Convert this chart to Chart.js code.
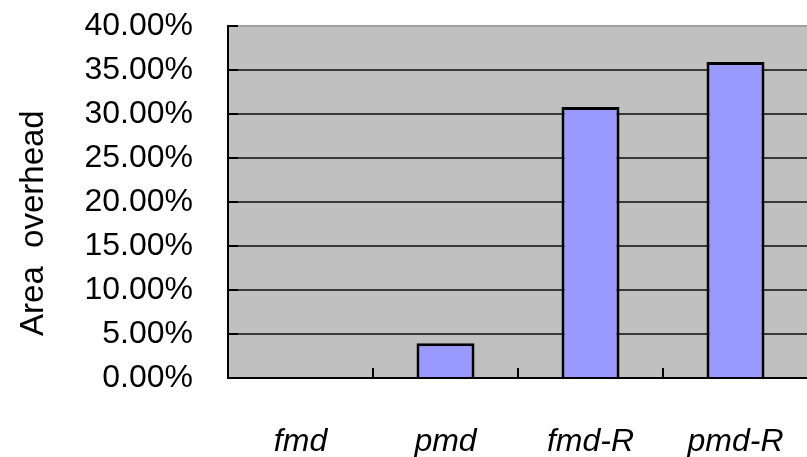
<!DOCTYPE html>
<html lang="en">
<head>
  <meta charset="UTF-8" />
  <title>Area overhead</title>
  <script src="https://cdn.jsdelivr.net/npm/chart.js"></script>
  <style>
    html, body { margin: 0; padding: 0; background: #fff; overflow: hidden; }
    .wrap { width: 840px; height: 457px; }
  </style>
</head>
<body>
  <div class="wrap"><canvas id="chart" width="840" height="457"></canvas></div>

  <script>
    const categories = ['fmd', 'pmd', 'fmd-R', 'pmd-R'];
    const overhead = [0, 3.95, 30.8, 35.9];   // percent
    const yMin = 0, yMax = 40, yStep = 5;
    const yTitle = 'Area  overhead';

    // gray plot background, inward tick marks and the axis title
    const plotBg = {
      id: 'plotBg',
      beforeDraw(chart) {
        const { ctx, chartArea: a } = chart;
        ctx.save();
        ctx.fillStyle = '#c0c0c0';
        ctx.fillRect(a.left, a.top, a.right - a.left, a.bottom - a.top);
        ctx.restore();
      },
      afterDatasetsDraw(chart) {
        const { ctx, chartArea: a, scales } = chart;
        ctx.save();
        ctx.strokeStyle = '#000';
        ctx.lineWidth = 2;
        // x ticks between categories, pointing up
        const x = scales.x;
        for (let i = 1; i < categories.length; i++) {
          const px = (x.getPixelForValue(i - 1) + x.getPixelForValue(i)) / 2;
          ctx.beginPath();
          ctx.moveTo(px, a.bottom);
          ctx.lineTo(px, a.bottom - 10);
          ctx.stroke();
        }
        // y ticks pointing right
        const y = scales.y;
        y.ticks.forEach(t => {
          const py = y.getPixelForValue(t.value);
          ctx.beginPath();
          ctx.moveTo(a.left, py);
          ctx.lineTo(a.left + 10, py);
          ctx.stroke();
        });
        // y title sits a bit below the middle of the axis in the original
        ctx.translate(34, y.getPixelForValue(yMax * 0.44));
        ctx.rotate(-Math.PI / 2);
        ctx.fillStyle = '#000';
        ctx.font = '33px "Liberation Sans"';
        ctx.textAlign = 'center';
        ctx.textBaseline = 'middle';
        ctx.fillText(yTitle, 0, 0);
        ctx.restore();
      }
    };

    const noPad = s => { s.paddingTop = 0; s.paddingBottom = 0; s.paddingLeft = 0; s.paddingRight = 0; };

    new Chart(document.getElementById('chart'), {
      type: 'bar',
      data: {
        labels: categories,
        datasets: [{
          data: overhead,
          backgroundColor: '#9999ff',
          borderColor: '#000',
          borderWidth: 3,
          categoryPercentage: 1,
          barPercentage: 0.4
        }]
      },
      options: {
        responsive: false,
        animation: false,
        layout: { padding: { top: 26, right: 32, bottom: 0, left: 0 } },
        plugins: { legend: { display: false }, tooltip: { enabled: false } },
        scales: {
          x: {
            afterFit(scale) { scale.height = 79; noPad(scale); },
            grid: { display: false },
            border: { color: '#000', width: 2 },
            ticks: {
              color: '#000',
              padding: 40,
              maxRotation: 0, minRotation: 0,
              font: { family: 'Liberation Sans', size: 32, style: 'italic', lineHeight: 1 }
            }
          },
          y: {
            min: yMin, max: yMax,
            afterFit(scale) { scale.width = 228; noPad(scale); },
            grid: {
              drawTicks: false,
              lineWidth: 2,
              color: c => c.tick && c.tick.value === yMax ? '#a0a0a0' : '#383838'
            },
            border: { color: '#000', width: 2 },
            ticks: {
              stepSize: yStep,
              autoSkip: false,
              padding: 35,
              color: '#000',
              font: { family: 'Liberation Sans', size: 32, lineHeight: 1 },
              callback: v => v.toFixed(2) + '%'
            }
          }
        }
      },
      plugins: [plotBg]
    });
  </script>
</body>
</html>
